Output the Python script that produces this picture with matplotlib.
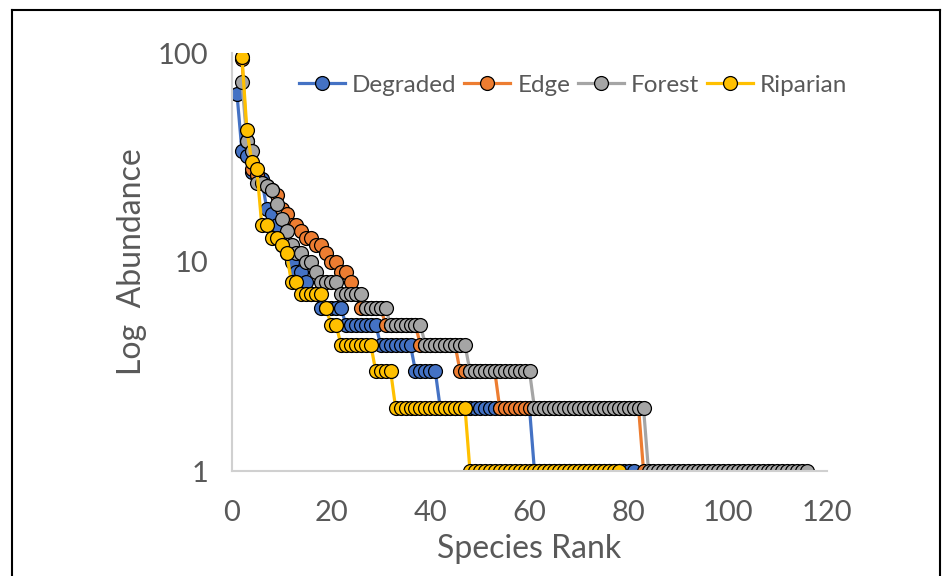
import numpy as np
import matplotlib
matplotlib.use("Agg")
import matplotlib.pyplot as plt
from matplotlib.lines import Line2D
from matplotlib.ticker import FixedLocator, FixedFormatter

plt.rcParams['font.family'] = ['Lato', 'DejaVu Sans']

# rank-abundance values (first rank of each series given separately)
degraded_start = 1
degraded = [64, 34, 32, 27, 26, 25, 18, 17, 15, 12, 11, 10, 9, 9, 8, 7, 7,
            6, 6, 6, 6, 6,
            5, 5, 5, 5, 5, 5, 5,
            4, 4, 4, 4, 4, 4, 4,
            3, 3, 3, 3, 3,
            2, 2, 2, 2, 2, 2, 2, 2, 2, 2, 2, 2, 2, 2, 2, 2, 2, 2, 2,
            1, 1, 1, 1, 1, 1, 1, 1, 1, 1, 1, 1, 1, 1, 1, 1, 1, 1, 1, 1, 1]

edge_start = 2
edge = [94, 38, 28, 26, 24, 23, 22, 21, 18, 17, 15, 15, 14, 13, 13, 12, 12,
        11, 10, 10, 9, 9, 8, 7,
        6, 6, 6, 6, 6,
        5, 5, 5, 5, 5, 5, 5,
        4, 4, 4, 4, 4, 4, 4, 4,
        3, 3, 3, 3, 3, 3, 3, 3,
        2, 2, 2, 2, 2, 2, 2, 2, 2, 2, 2, 2, 2, 2, 2, 2, 2, 2, 2, 2,
        2, 2, 2, 2, 2, 2, 2, 2, 2,
        1]

forest_start = 2
forest = [73, 38, 34, 24, 24, 23, 22, 19, 16, 14, 12, 11, 11, 10, 10, 9,
          8, 8, 8, 8,
          7, 7, 7, 7, 7,
          6, 6, 6, 6, 6,
          5, 5, 5, 5, 5, 5, 5,
          4, 4, 4, 4, 4, 4, 4, 4, 4,
          3, 3, 3, 3, 3, 3, 3, 3, 3, 3, 3, 3, 3,
          2, 2, 2, 2, 2, 2, 2, 2, 2, 2, 2, 2, 2, 2, 2, 2, 2, 2, 2, 2, 2, 2, 2,
          1, 1, 1, 1, 1, 1, 1, 1, 1, 1, 1, 1, 1, 1, 1, 1, 1, 1, 1, 1, 1, 1,
          1, 1, 1, 1, 1, 1, 1, 1, 1, 1, 1]

riparian_start = 2
riparian = [96, 43, 30, 28, 15, 15, 13, 13, 12, 11, 8, 8,
            7, 7, 7, 7, 7,
            6,
            5, 5,
            4, 4, 4, 4, 4, 4, 4,
            3, 3, 3, 3,
            2, 2, 2, 2, 2, 2, 2, 2, 2, 2, 2, 2, 2, 2, 2,
            1, 1, 1, 1, 1, 1, 1, 1, 1, 1, 1, 1, 1, 1, 1, 1, 1, 1, 1, 1, 1, 1,
            1, 1, 1, 1, 1, 1, 1, 1, 1]

series = [("Degraded", degraded_start, degraded, "#4472C4"),
          ("Edge", edge_start, edge, "#ED7D31"),
          ("Forest", forest_start, forest, "#A5A5A5"),
          ("Riparian", riparian_start, riparian, "#FFC000")]

fig = plt.figure(figsize=(9.46, 5.76), dpi=100)
ax = fig.add_axes([232/946, 1 - 471/576, (827 - 232)/946, (471 - 53)/576])

for name, start, vals, col in series:
    ranks = np.arange(start, start + len(vals))
    ax.plot(ranks, vals, color=col, lw=2.3, marker='o', ms=10,
            mfc=col, mec='black', mew=0.9, label=name)

ax.set_yscale('log')
ax.set_ylim(1, 100)
ax.set_xlim(0, 120)
ax.yaxis.set_major_locator(FixedLocator([1, 10, 100]))
ax.yaxis.set_major_formatter(FixedFormatter(['1', '10', '100']))
ax.yaxis.set_minor_locator(FixedLocator([]))
ax.set_xticks(range(0, 121, 20))

for s in ['top', 'right']:
    ax.spines[s].set_visible(False)
for s in ['left', 'bottom']:
    ax.spines[s].set_color('#D0D0D0')
    ax.spines[s].set_linewidth(1.5)
ax.tick_params(length=0, labelsize=21, colors='#595959')
ax.tick_params(axis='x', pad=21)
ax.tick_params(axis='y', pad=17)
ax.set_xlabel("Species Rank", fontsize=23, color='#595959', labelpad=6)
ax.set_ylabel("Log  Abundance", fontsize=23, color='#595959', labelpad=8)

handles = [Line2D([], [], color=col, lw=2.3, marker='o', ms=10, mfc=col,
                  mec='black', mew=0.9) for _, _, _, col in series]
fig.legend(handles, [s[0] for s in series], loc='center',
           bbox_to_anchor=(573/946, 1 - 85/576), ncol=4, frameon=False,
           fontsize=17.5, labelcolor='#595959', handlelength=1.9,
           handletextpad=0.3, columnspacing=0.3)

# outer frame
fig.add_artist(Line2D([12/946, 940/946], [1 - 10/576, 1 - 10/576],
                      transform=fig.transFigure, color='black', lw=1.5))
fig.add_artist(Line2D([12/946, 12/946], [0, 1 - 10/576],
                      transform=fig.transFigure, color='black', lw=1.5))
fig.add_artist(Line2D([940/946, 940/946], [0, 1 - 10/576],
                      transform=fig.transFigure, color='black', lw=1.5))

fig.savefig('out.png', dpi=100)
